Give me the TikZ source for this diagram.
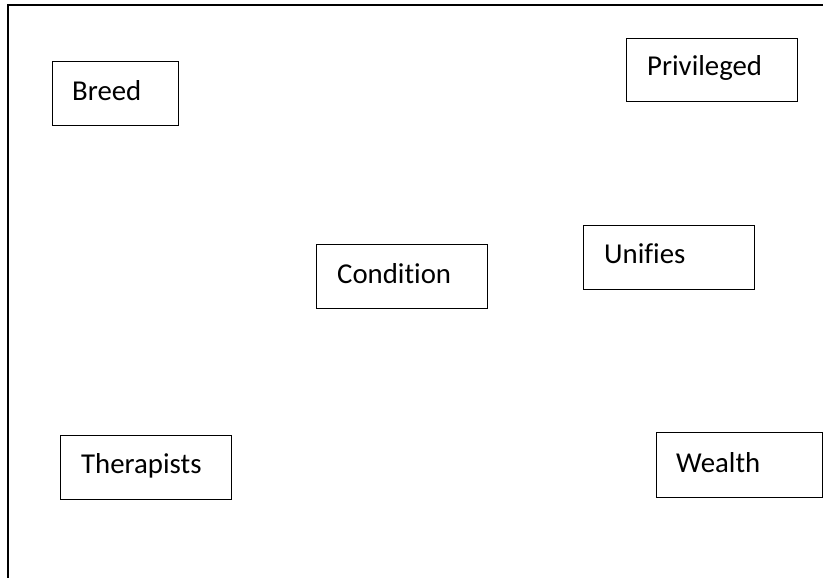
\documentclass[tikz,border=0pt]{standalone}
\usepackage{fontspec}
\setmainfont[Ligatures=NoCommon]{Carlito}
\usetikzlibrary{calc}
\begin{document}
\begin{tikzpicture}[x=1pt,y=-1pt,
  wbox/.style={draw=black, line width=1.3pt, rectangle, inner sep=0pt, anchor=north west},
  lbl/.style={anchor=base west, inner sep=0pt, font=\fontsize{28.8}{34}\selectfont},
  frame/.style={line width=2.2pt, line cap=rect}]
\useasboundingbox (0,0) rectangle (823,578);
\coordinate (fbl) at (8,578);
\coordinate (ftl) at (8,5);
\coordinate (ftr) at (823,5);
\draw[frame] (fbl) -- (ftl) -- (ftr);
\node[wbox, minimum width=126pt, minimum height=64pt] (breed) at (52,61) {};
\node[wbox, minimum width=171pt, minimum height=63pt] (priv) at (626,38) {};
\node[wbox, minimum width=171pt, minimum height=64pt] (cond) at (316,244) {};
\node[wbox, minimum width=171pt, minimum height=64pt] (unif) at (583,225) {};
\node[wbox, minimum width=171pt, minimum height=64pt] (ther) at (60,435) {};
\node[wbox, minimum width=166pt, minimum height=65pt] (weal) at (656,432) {};
\node[lbl] (breedT) at ($(breed.north west)+(20,39)$) {Breed};
\node[lbl] (privT) at ($(priv.north west)+(21,37.5)$) {Privileged};
\node[lbl] (condT) at ($(cond.north west)+(21,39)$) {Condition};
\node[lbl] (unifT) at ($(unif.north west)+(21,38)$) {Unifies};
\node[lbl] (therT) at ($(ther.north west)+(21,38)$) {Therapists};
\node[lbl] (wealT) at ($(weal.north west)+(20,40)$) {Wealth};
\end{tikzpicture}
\end{document}
